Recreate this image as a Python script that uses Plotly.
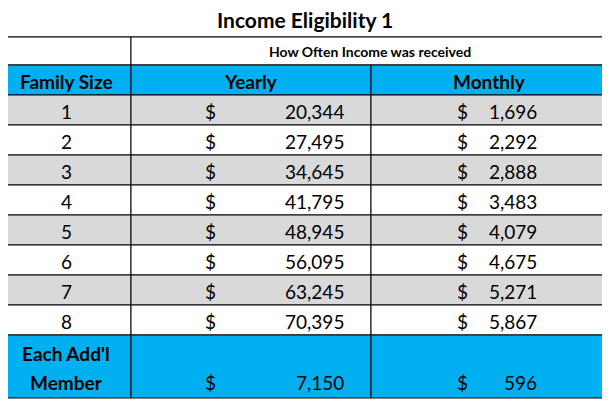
import plotly.graph_objects as go

title = "Income Eligibility 1"
subtitle = "How Often Income was received"
headers = ["Family Size", "Yearly", "Monthly"]
family_sizes = ["1", "2", "3", "4", "5", "6", "7", "8"]
yearly = [20344, 27495, 34645, 41795, 48945, 56095, 63245, 70395]
monthly = [1696, 2292, 2888, 3483, 4079, 4675, 5271, 5867]
addl_label = ["Each Add'l", "Member"]
addl_yearly = 7150
addl_monthly = 596

BLUE = "#00B0F0"
GREY = "#D9D9D9"
FONT = "Lato"
PAGE_OFFSET = 8  # body margin of the html page

col_x = [1, 131, 371, 608]
title_y = (1, 37)
sub_y = (37, 65)
head_y = (65, 95)
row_h = 30
last_y = (head_y[1] + row_h * len(family_sizes), 398)

fig = go.Figure()
shapes = []
ann = []


def rect(x0, y0, x1, y1, fill="white"):
    shapes.append(dict(type="rect", x0=x0, y0=y0, x1=x1, y1=y1, fillcolor=fill,
                       line=dict(color="black", width=1), layer="below"))


def text(x, y, s, size=19, bold=False, xanchor="center"):
    ann.append(dict(x=x, y=y, text=f"<b>{s}</b>" if bold else s, showarrow=False,
                    xanchor=xanchor, yanchor="middle",
                    font=dict(family=FONT, size=size, color="black")))


# title
rect(col_x[0], title_y[0], col_x[3], title_y[1])
text((col_x[0] + col_x[3]) / 2, (title_y[0] + title_y[1]) / 2, title, 21, True)
# subtitle row
rect(col_x[0], sub_y[0], col_x[1], sub_y[1])
rect(col_x[1], sub_y[0], col_x[3], sub_y[1])
text((col_x[1] + col_x[3]) / 2, (sub_y[0] + sub_y[1]) / 2, subtitle, 14, True)
# header
for i, h in enumerate(headers):
    rect(col_x[i], head_y[0], col_x[i + 1], head_y[1], BLUE)
    text((col_x[i] + col_x[i + 1]) / 2, (head_y[0] + head_y[1]) / 2 + 1, h, 19, True)

# body
for k, fs in enumerate(family_sizes):
    y0 = head_y[1] + k * row_h
    y1 = y0 + row_h
    fill = GREY if k % 2 == 0 else "white"
    for i in range(3):
        rect(col_x[i], y0, col_x[i + 1], y1, fill)
    yc = (y0 + y1) / 2 + 1
    text((col_x[0] + col_x[1]) / 2, yc, fs)
    text(203, yc, "$", xanchor="left")
    text(346, yc, f"{yearly[k]:,}", xanchor="right")
    text(455, yc, "$", xanchor="left")
    text(539, yc, f"{monthly[k]:,}", xanchor="right")

# additional member row
for i in range(3):
    rect(col_x[i], last_y[0], col_x[i + 1], last_y[1], BLUE)
text((col_x[0] + col_x[1]) / 2, last_y[0] + 18, addl_label[0], 19, True)
text((col_x[0] + col_x[1]) / 2, last_y[0] + 47, addl_label[1], 19, True)
text(203, last_y[0] + 47, "$", xanchor="left")
text(346, last_y[0] + 47, f"{addl_yearly:,}", xanchor="right")
text(455, last_y[0] + 47, "$", xanchor="left")
text(539, last_y[0] + 47, f"{addl_monthly:,}", xanchor="right")

fig.update_layout(
    width=610, height=401, margin=dict(l=0, r=0, t=0, b=0),
    paper_bgcolor="white", plot_bgcolor="white",
    shapes=shapes, annotations=ann, showlegend=False,
    xaxis=dict(range=[PAGE_OFFSET, 610 + PAGE_OFFSET], visible=False, fixedrange=True),
    yaxis=dict(range=[401 + PAGE_OFFSET, PAGE_OFFSET], visible=False, fixedrange=True),
)
fig.write_html("out.html", config={"displayModeBar": False})
